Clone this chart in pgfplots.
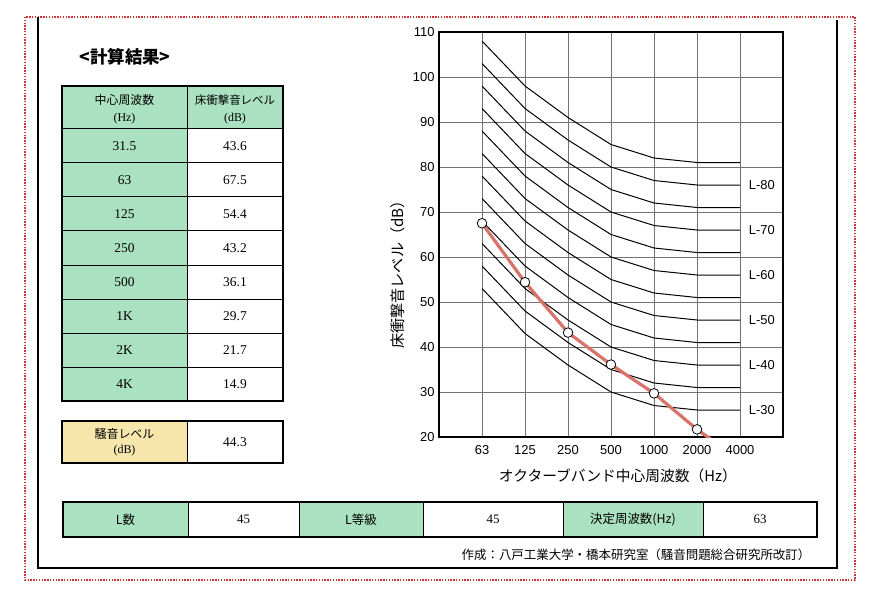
\documentclass[border=0pt]{standalone}
\usepackage{fontspec}
\setmainfont{Liberation Serif}
\setsansfont{Liberation Sans}
\newfontfamily\cjk{Noto Sans CJK JP}
\usepackage{pgfplots}
\usepackage{pgfplotstable}
\pgfplotsset{compat=1.18}
\definecolor{cellgreen}{RGB}{170,225,192}
\definecolor{cellyellow}{RGB}{246,230,172}
\definecolor{curvered}{RGB}{215,115,105}
\definecolor{framered}{RGB}{205,55,55}
\newcommand\fs[1]{\fontsize{#1}{#1}\selectfont}

\pgfplotstableread{
x y
0 67.5
1 54.4
2 43.2
3 36.1
4 29.7
5 21.7
6 14.9
}\measured

\pgfplotstableread{
x L85 L80 L75 L70 L65 L60 L55 L50 L45 L40 L35 L30
0 108 103 98 93 88 83 78 73 68 63 58 53
1 98 93 88 83 78 73 68 63 58 53 48 43
2 91 86 81 76 71 66 61 56 51 46 41 36
3 85 80 75 70 65 60 55 50 45 40 35 30
4 82 77 72 67 62 57 52 47 42 37 32 27
5 81 76 71 66 61 56 51 46 41 36 31 26
6 81 76 71 66 61 56 51 46 41 36 31 26
}\lcurves

\begin{document}
\begin{tikzpicture}[x=1bp,y=-1bp]
\useasboundingbox (0,0) rectangle (878,600);
% outer frames
\draw[framered, line width=1.6bp, dash pattern=on 1.4bp off 1.4bp] (25,17) rectangle (855,580);
\draw[line width=2.8bp] (38,17) -- (38,568) -- (837,568) -- (837,20);
% title
\node[font=\cjk\bfseries\fs{17.5}] at (125,57) {<計算結果>};
% left table
\fill[cellgreen] (62,86) rectangle (187,401);
\fill[cellgreen] (187,86) rectangle (283,129);
\draw[line width=1.2bp] (62,86) rectangle (283,401);
\draw[line width=1bp] (187,86) -- (187,401);
\foreach \yy in {129,163,197,231,265,299,333,367} \draw[line width=1bp] (62,\yy) -- (283,\yy);
\node[font=\cjk\fs{12}] at (124.5,100) {中心周波数};
\node[font=\fs{12}] at (124.5,119) {(Hz)};
\node[font=\cjk\fs{11.5}] at (235,100) {床衝撃音レベル};
\node[font=\fs{12}] at (235,119) {(dB)};
\foreach \f/\v [count=\i] in {31.5/43.6, 63/67.5, 125/54.4, 250/43.2, 500/36.1, 1K/29.7, 2K/21.7, 4K/14.9} {
  \node[font=\fs{13.5}] at (124.5,{146+34*(\i-1)}) {\f};
  \node[font=\fs{13.5}] at (235,{146+34*(\i-1)}) {\v};
}
% noise level box
\fill[cellyellow] (62,421) rectangle (187,463);
\draw[line width=1.2bp] (62,421) rectangle (283,463);
\draw[line width=1bp] (187,421) -- (187,463);
\node[font=\cjk\fs{12}] at (124.5,434) {騒音レベル};
\node[font=\fs{12}] at (124.5,451) {(dB)};
\node[font=\fs{13.5}] at (235,442) {44.3};
% bottom table
\fill[cellgreen] (63,502) rectangle (188,537);
\fill[cellgreen] (299,502) rectangle (423,537);
\fill[cellgreen] (563,502) rectangle (703,537);
\draw[line width=1.2bp] (63,502) rectangle (817,537);
\foreach \xx in {188,299,423,563,703} \draw[line width=1bp] (\xx,502) -- (\xx,537);
\node[font=\cjk\fs{12.5}] at (125.5,519.5) {L数};
\node[font=\fs{13}] at (243.5,519.5) {45};
\node[font=\cjk\fs{12.5}] at (361,519.5) {L等級};
\node[font=\fs{13}] at (493,519.5) {45};
\node[font=\cjk\fs{12.5}] at (633,519.5) {決定周波数(Hz)};
\node[font=\fs{13}] at (760,519.5) {63};
% footnote
\node[font=\cjk\fs{12.5}] at (636,555) {作成：八戸工業大学・橋本研究室（騒音問題総合研究所改訂）};
% chart
\begin{axis}[
  at={(439bp,-437bp)}, anchor=south west,
  scale only axis, width=344bp, height=405bp,
  xmin=-1, xmax=7, ymin=20, ymax=110,
  xtick={0,...,6}, xticklabels={63,125,250,500,1000,2000,4000},
  ytick={20,30,...,110},
  grid=major, major grid style={line width=0.6bp, color=black!55},
  major tick length=0pt,
  axis line style={line width=2.4bp},
  tick label style={font=\sffamily\fs{13}},
  xticklabel style={yshift=-5bp},
  yticklabel style={xshift=-1bp},
  /pgf/number format/assume math mode=true,
  xlabel={オクターブバンド中心周波数（Hz）},
  ylabel={床衝撃音レベル（dB）},
  every axis x label/.style={at={(axis description cs:0.52,-0.096)}, anchor=center, font=\cjk\fs{14.8}},
  every axis y label/.style={at={(axis description cs:-0.119,0.41)}, rotate=90, anchor=center, font=\cjk\fs{15.2}},
]
\pgfplotsinvokeforeach{85,80,75,70,65,60,55,50,45,40,35,30}{
  \addplot[black, line width=1bp, no marks] table[x=x, y=L#1] {\lcurves};
}
\addplot[curvered, line width=3.2bp, no marks] table[x=x, y=y] {\measured};
\addplot[only marks, mark=*, mark size=4.8bp, mark options={fill=white, draw=black, line width=0.8bp}, restrict y to domain=20:110] table[x=x, y=y] {\measured};
\node[font=\sffamily\fs{13}] at (axis cs:6.51,76) {L-80};
\node[font=\sffamily\fs{13}] at (axis cs:6.51,66) {L-70};
\node[font=\sffamily\fs{13}] at (axis cs:6.51,56) {L-60};
\node[font=\sffamily\fs{13}] at (axis cs:6.51,46) {L-50};
\node[font=\sffamily\fs{13}] at (axis cs:6.51,36) {L-40};
\node[font=\sffamily\fs{13}] at (axis cs:6.51,26) {L-30};
\end{axis}
\end{tikzpicture}
\end{document}
